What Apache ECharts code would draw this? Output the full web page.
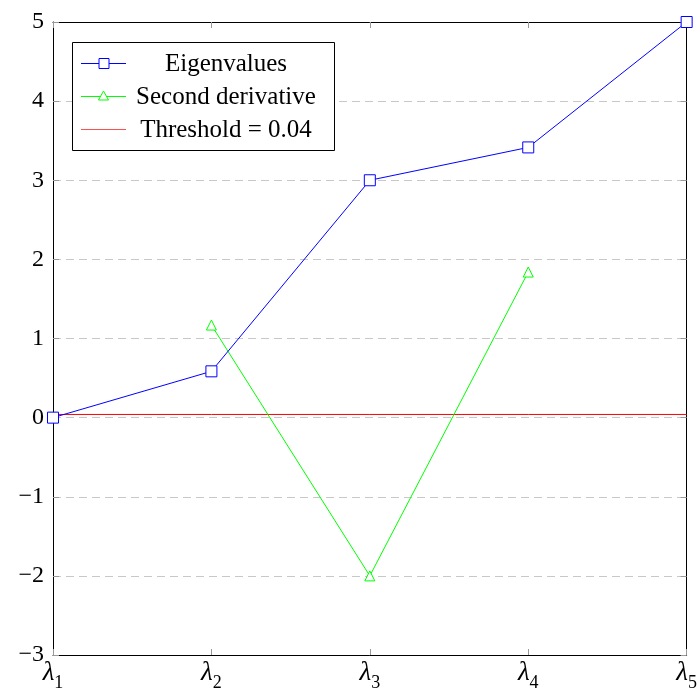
<!DOCTYPE html>
<html><head><meta charset="utf-8">
<script src="https://cdn.jsdelivr.net/npm/echarts@6/dist/echarts.min.js"></script>
<style>html,body{margin:0;padding:0;background:#fff}#c{width:700px;height:692px}
.pre{position:absolute;left:-9999px;top:0;font-family:'Liberation Serif';}
.pre i{font-style:italic}</style>
</head><body><span class="pre">Preload λ 0123 <i>λ</i></span><div id="c"></div>
<script>
const categories = ['λ1','λ2','λ3','λ4','λ5'];
const eigenvalues = [0, 0.585, 3.0, 3.415, 5.0];
const secondDerivative = [null, 1.17, -2.0, 1.84, null];
const threshold = [0.04, 0.04, 0.04, 0.04, 0.04];
const legendNames = ['Eigenvalues', 'Second derivative', 'Threshold = 0.04'];

const FONT = 'Liberation Serif';

function build() {
  const chart = echarts.getInstanceByDom(document.getElementById('c')) || echarts.init(document.getElementById('c'), null, {renderer: 'canvas'});
  const L = 72, T = 42, W = 262, H = 108;
  const rowY = [63, 96, 129];
  const lx1 = 81, lx2 = 126, tx = 226;
  const legendGraphic = [
    {type:'rect', shape:{x:L+0.5, y:T+0.5, width:W, height:H}, style:{fill:'#fff', stroke:'#000', lineWidth:1}, z:100},
    {type:'line', shape:{x1:lx1, y1:rowY[0]+0.5, x2:lx2, y2:rowY[0]+0.5}, style:{stroke:'#0000ff', lineWidth:1}, z:101},
    {type:'rect', shape:{x:(lx1+lx2)/2-5+0.5, y:rowY[0]-5+0.5, width:10, height:10}, style:{fill:'#fff', stroke:'#0000ff', lineWidth:1}, z:102},
    {type:'line', shape:{x1:lx1, y1:rowY[1]+0.5, x2:lx2, y2:rowY[1]+0.5}, style:{stroke:'#00ff00', lineWidth:1}, z:101},
    {type:'polygon', shape:{points:[[(lx1+lx2)/2, rowY[1]-5],[(lx1+lx2)/2-5, rowY[1]+4],[(lx1+lx2)/2+5, rowY[1]+4]]}, style:{fill:'#fff', stroke:'#00ff00', lineWidth:1}, z:102},
    {type:'line', shape:{x1:lx1, y1:rowY[2]+0.5, x2:lx2, y2:rowY[2]+0.5}, style:{stroke:'#ff5050', lineWidth:1}, z:101}
  ];
  legendNames.forEach((n, i) => {
    legendGraphic.push({type:'text', x:tx, y:rowY[i]+1, style:{text:n, fontFamily:FONT, fontSize:25, fill:'#000', align:'center', verticalAlign:'middle'}, z:103});
  });
  const minusFmt = v => (v < 0 ? '\u2212' + Math.abs(v) : String(v));
  chart.setOption({
    animation: false,
    backgroundColor: '#fff',
    textStyle: {fontFamily: FONT},
    grid: {left: 53, right: 11, top: 22, bottom: 34, containLabel: false},
    xAxis: [{
      type: 'category', data: categories, boundaryGap: false,
      axisLine: {show: true, onZero: false, lineStyle: {color: '#000', width: 1}},
      axisTick: {show: true, inside: true, length: 6, lineStyle: {color: '#999'}},
      splitLine: {show: false},
      axisLabel: {
        margin: 4,
        formatter: v => '{l|' + v.charAt(0) + '}{s|' + v.slice(1) + '}',
        rich: {
          l: {fontFamily: FONT, fontSize: 27, fontStyle: 'italic', color: '#000', verticalAlign: 'bottom', padding: [0, 0, 6, 0]},
          s: {fontFamily: FONT, fontSize: 18, color: '#000', verticalAlign: 'bottom'}
        }
      }
    }, {
      type: 'category', data: categories, boundaryGap: false, position: 'top',
      axisLine: {show: true, onZero: false, lineStyle: {color: '#000', width: 1}},
      axisTick: {show: true, inside: true, length: 6, lineStyle: {color: '#999'}},
      axisLabel: {show: false}, splitLine: {show: false}
    }],
    yAxis: [{
      type: 'value', min: -3, max: 5, interval: 1,
      axisLine: {show: true, onZero: false, lineStyle: {color: '#000', width: 1}},
      axisTick: {show: true, inside: true, length: 6, lineStyle: {color: '#999'}},
      splitLine: {show: true, lineStyle: {color: '#c8c8c8', type: [8, 5], width: 1}},
      axisLabel: {margin: 9, fontFamily: FONT, fontSize: 24, color: '#000', formatter: minusFmt}
    }, {
      type: 'value', min: -3, max: 5, interval: 1, position: 'right',
      axisLine: {show: true, onZero: false, lineStyle: {color: '#000', width: 1}},
      axisTick: {show: true, inside: true, length: 6, lineStyle: {color: '#999'}},
      axisLabel: {show: false}, splitLine: {show: false}
    }],
    graphic: legendGraphic,
    series: [{
      name: legendNames[0], type: 'line', data: eigenvalues,
      symbol: 'rect', symbolSize: 11, lineStyle: {color: '#0000ff', width: 1},
      itemStyle: {color: '#ffffff', borderColor: '#0000ff', borderWidth: 1}, z: 5
    }, {
      name: legendNames[1], type: 'line', data: secondDerivative, connectNulls: false,
      symbol: 'triangle', symbolSize: 10, lineStyle: {color: '#00ff00', width: 1},
      itemStyle: {color: '#ffffff', borderColor: '#00ff00', borderWidth: 1}, z: 4
    }, {
      name: legendNames[2], type: 'line', data: threshold,
      symbol: 'none', lineStyle: {color: '#ff0000', width: 1}, z: 3
    }]
  }, true);
}
build();
if (document.fonts && document.fonts.load) {
  Promise.all([
    document.fonts.load('24px "Liberation Serif"'),
    document.fonts.load('italic 27px "Liberation Serif"')
  ]).then(build).catch(()=>{});
}
</script></body></html>
